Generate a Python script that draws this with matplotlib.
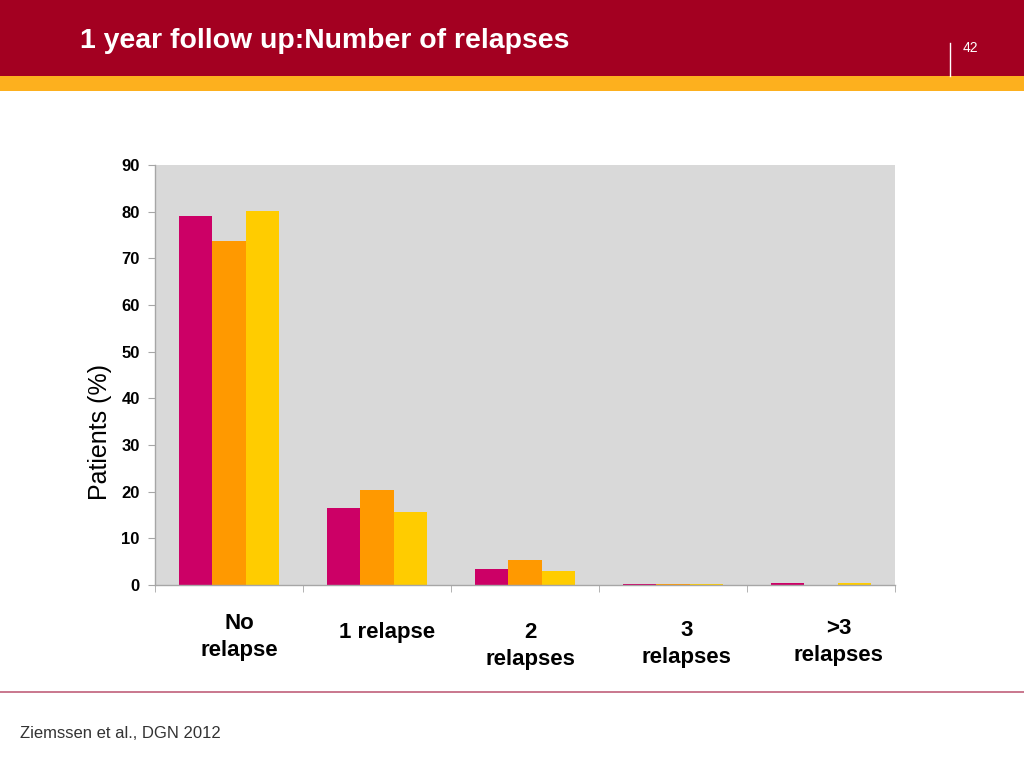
import matplotlib
matplotlib.use("Agg")
import matplotlib.pyplot as plt
import matplotlib.transforms as mtransforms
from matplotlib.patches import Rectangle
import numpy as np

plt.rcParams['font.family'] = ['Liberation Sans', 'DejaVu Sans']

categories = ["No\nrelapse", "1 relapse", "2\nrelapses", "3\nrelapses", ">3\nrelapses"]
series_a = [79.1, 16.5, 3.4, 0.3, 0.5]
series_b = [73.7, 20.4, 5.4, 0.3, 0.0]
series_c = [80.1, 15.6, 3.0, 0.3, 0.5]
yticks = [0, 10, 20, 30, 40, 50, 60, 70, 80, 90]
title = "1 year follow up:Number of relapses"
footer = "Ziemssen et al., DGN 2012"
page = "42"

colors = ["#CC0066", "#FF9900", "#FFCC00"]

fig = plt.figure(figsize=(10.24, 7.68), dpi=100)
fig.patch.set_facecolor("white")

# Header bands
fig.patches.append(Rectangle((0, 1 - 76 / 768), 1, 76 / 768, transform=fig.transFigure,
                             facecolor="#A30021", edgecolor="none", zorder=0))
fig.patches.append(Rectangle((0, 1 - 91 / 768), 1, 15 / 768, transform=fig.transFigure,
                             facecolor="#FDB01E", edgecolor="none", zorder=0))
fig.text(80 / 1024, 1 - 41 / 768, title, color="white", fontsize=20.4, fontweight="bold",
         ha="left", va="center")
fig.text(963 / 1024, 1 - 48 / 768, page, color="white", fontsize=10, ha="left", va="center")
fig.add_artist(plt.Line2D([950 / 1024, 950 / 1024], [1 - 43 / 768, 1 - 76 / 768],
                          transform=fig.transFigure, color="white", lw=1))

# Footer line and text
fig.add_artist(plt.Line2D([0, 1], [1 - 692 / 768, 1 - 692 / 768], transform=fig.transFigure,
                          color="#C0607A", lw=1.2))
fig.text(20 / 1024, 1 - 733 / 768, footer, color="#333333", fontsize=12, ha="left", va="center")

ax = fig.add_axes([155 / 1024, 1 - 585 / 768, 740 / 1024, 420 / 768])
ax.set_facecolor("#D9D9D9")

x = np.arange(len(categories))
w = 0.223
ax.bar(x - w, series_a, w, color=colors[0], zorder=2)
ax.bar(x, series_b, w, color=colors[1], zorder=2)
ax.bar(x + w, series_c, w, color=colors[2], zorder=2)

ax.set_xlim(-0.5, len(categories) - 0.5)
ax.set_ylim(0, 90)
ax.set_yticks(yticks)
ax.set_yticklabels([str(t) for t in yticks], fontsize=12, fontweight="bold")
ax.tick_params(axis="y", length=5, color="#A6A6A6", pad=6)

ax.set_xticks([])
ax.set_xticks(np.arange(len(categories) + 1) - 0.5, minor=True)
ax.tick_params(axis="x", which="minor", length=5, color="#A6A6A6")
ax.tick_params(axis="x", which="major", length=0)

for s in ["top", "right"]:
    ax.spines[s].set_visible(False)
for s in ["left", "bottom"]:
    ax.spines[s].set_color("#A6A6A6")
    ax.spines[s].set_linewidth(1)

trans = mtransforms.blended_transform_factory(ax.transData, ax.transAxes)
x_offsets = [0.07, 0.07, 0.04, 0.09, 0.12]
y_pos = [-0.124, -0.112, -0.145, -0.140, -0.136]
for i, lab in enumerate(categories):
    ax.text(i + x_offsets[i], y_pos[i], lab, transform=trans, ha="center", va="center",
            multialignment="center", fontsize=16, fontweight="bold", linespacing=1.4)

ax.set_ylabel("Patients (%)", fontsize=18)
ax.yaxis.set_label_coords(-0.058, 0.364)

fig.savefig("out.png", dpi=100)
